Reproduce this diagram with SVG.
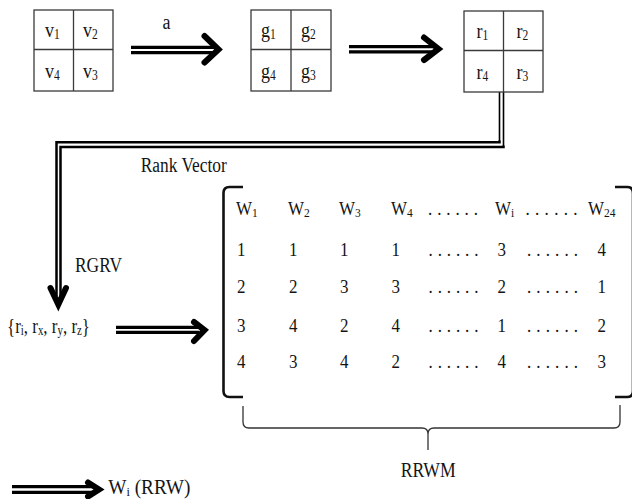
<svg xmlns="http://www.w3.org/2000/svg" width="632" height="499" viewBox="0 0 632 499">
<style>
text{font-family:"Liberation Serif","Times New Roman",serif;fill:#141414}
.bx{font-size:18px}
.lb{font-size:18px}
.mx{font-size:17px}
.sub{font-size:11.5px}
.cell{fill:#fff;stroke:#3a3a3a;stroke-width:1.3}
.grid{stroke:#3a3a3a;stroke-width:1.3}
.dl{fill:none;stroke:#000;stroke-width:3.2}
.dt{fill:none;stroke:#000;stroke-width:2.5}
.dthin{fill:none;stroke:#000;stroke-width:1.6}
.hd{fill:none;stroke:#000;stroke-width:6;stroke-linecap:round;stroke-linejoin:miter}
.br{fill:none;stroke:#111;stroke-width:2.6}
.brace{fill:none;stroke:#333;stroke-width:1.3}
</style>

<g id="connectors">
  <path class="dl" d="M131,47.3 H214 M131,52.7 H214"/>
  <polyline class="hd" points="204.5,36 218.5,49.5 204.5,62.5"/>
  <path class="dl" d="M349,46.7 H434 M349,51.9 H434"/>
  <polyline class="hd" points="424,37.5 438.5,49 424,60"/>
  <path class="dthin" d="M499.5,92 V141 M503.5,92 V146"/>
  <path class="dt" d="M499.5,140.5 V142.2 H56.5 V296 M503.5,145.5 V147 H60.5 V296"/>
  <polyline class="hd" points="50.5,288 58.3,304.5 66,288"/>
  <path class="dl" d="M116,327.3 H199 M116,332.4 H199"/>
  <polyline class="hd" points="194,322 204.5,330 194,341"/>
  <path class="dl" d="M12,486.7 H94 M12,492.3 H94"/>
  <polyline class="hd" points="88,482.5 99,489.5 88,496.5"/>
</g>

<g id="label-a"><text class="lb" transform="translate(162.5,29) scale(1,1.2)">a</text></g>
<g id="label-rank-vector"><text class="lb" transform="translate(140.7,171.7) scale(1,1.2)" textLength="86" lengthAdjust="spacingAndGlyphs">Rank Vector</text></g>
<g id="label-rgrv"><text class="lb" transform="translate(75,271.7) scale(1,1.2)" textLength="47" lengthAdjust="spacingAndGlyphs">RGRV</text></g>

<g id="box-v">
  <rect class="cell" x="34" y="10" width="79" height="81"/>
  <path class="grid" d="M73.5,10 V91 M34,49.5 H113"/>
  <text class="bx" transform="translate(45,37) scale(1,1.2)">v<tspan class="sub" dy="2">1</tspan></text>
  <text class="bx" transform="translate(83,37) scale(1,1.2)">v<tspan class="sub" dy="2">2</tspan></text>
  <text class="bx" transform="translate(45,77.7) scale(1,1.2)">v<tspan class="sub" dy="2">4</tspan></text>
  <text class="bx" transform="translate(83,77.7) scale(1,1.2)">v<tspan class="sub" dy="2">3</tspan></text>
</g>

<g id="box-g">
  <rect class="cell" x="251" y="10" width="80" height="81"/>
  <path class="grid" d="M291,10 V91 M251,49.5 H331"/>
  <text class="bx" transform="translate(261,37) scale(1,1.2)">g<tspan class="sub" dy="2">1</tspan></text>
  <text class="bx" transform="translate(301,37) scale(1,1.2)">g<tspan class="sub" dy="2">2</tspan></text>
  <text class="bx" transform="translate(261,77.7) scale(1,1.2)">g<tspan class="sub" dy="2">4</tspan></text>
  <text class="bx" transform="translate(301,77.7) scale(1,1.2)">g<tspan class="sub" dy="2">3</tspan></text>
</g>

<g id="box-r">
  <rect class="cell" x="464" y="11" width="79" height="81"/>
  <path class="grid" d="M503.5,11 V92 M464,50.5 H543"/>
  <text class="bx" transform="translate(476.5,37.5) scale(1,1.2)">r<tspan class="sub" dy="2">1</tspan></text>
  <text class="bx" transform="translate(516.5,37.5) scale(1,1.2)">r<tspan class="sub" dy="2">2</tspan></text>
  <text class="bx" transform="translate(476.5,79) scale(1,1.2)">r<tspan class="sub" dy="2">4</tspan></text>
  <text class="bx" transform="translate(516.5,79) scale(1,1.2)">r<tspan class="sub" dy="2">3</tspan></text>
</g>

<g id="rank-set">
  <text class="lb" transform="translate(7,333) scale(1,1.2)" textLength="83" lengthAdjust="spacingAndGlyphs">{r<tspan class="sub" dy="2">i</tspan><tspan dy="-2">, r</tspan><tspan class="sub" dy="2">x</tspan><tspan dy="-2">, r</tspan><tspan class="sub" dy="2">y</tspan><tspan dy="-2">, r</tspan><tspan class="sub" dy="2">z</tspan><tspan dy="-2">}</tspan></text>
</g>

<g id="matrix">
  <path class="br" d="M243,187 H229.5 Q223.5,187 223.5,193 V391 Q223.5,397 229.5,397 H243"/>
  <path class="br" d="M615,187 H627 Q633,187 633,193 V391 Q633,397 627,397 H615"/>
  <text class="mx" transform="translate(236,215) scale(1,1.12)">W<tspan class="sub" dy="2">1</tspan></text>
  <text class="mx" transform="translate(288,215) scale(1,1.12)">W<tspan class="sub" dy="2">2</tspan></text>
  <text class="mx" transform="translate(339,215) scale(1,1.12)">W<tspan class="sub" dy="2">3</tspan></text>
  <text class="mx" transform="translate(391,215) scale(1,1.12)">W<tspan class="sub" dy="2">4</tspan></text>
  <text class="mx" transform="translate(428,215) scale(1,1.12)" textLength="50" lengthAdjust="spacing">......</text>
  <text class="mx" transform="translate(495,215) scale(1,1.12)">W<tspan class="sub" dy="2">i</tspan></text>
  <text class="mx" transform="translate(525.5,215) scale(1,1.12)" textLength="52" lengthAdjust="spacing">......</text>
  <text class="mx" transform="translate(588,215) scale(1,1.12)">W<tspan class="sub" dy="2">24</tspan></text>

  <text class="mx" transform="translate(237,256) scale(1,1.12)">1</text>
  <text class="mx" transform="translate(289,256) scale(1,1.12)">1</text>
  <text class="mx" transform="translate(340,256) scale(1,1.12)">1</text>
  <text class="mx" transform="translate(391.5,256) scale(1,1.12)">1</text>
  <text class="mx" transform="translate(428.5,256) scale(1,1.12)" textLength="50" lengthAdjust="spacing">......</text>
  <text class="mx" transform="translate(497.5,256) scale(1,1.12)">3</text>
  <text class="mx" transform="translate(527,256) scale(1,1.12)" textLength="51" lengthAdjust="spacing">......</text>
  <text class="mx" transform="translate(597.5,256) scale(1,1.12)">4</text>

  <text class="mx" transform="translate(237,293.3) scale(1,1.12)">2</text>
  <text class="mx" transform="translate(289,293.3) scale(1,1.12)">2</text>
  <text class="mx" transform="translate(340,293.3) scale(1,1.12)">3</text>
  <text class="mx" transform="translate(391.5,293.3) scale(1,1.12)">3</text>
  <text class="mx" transform="translate(428.5,293.3) scale(1,1.12)" textLength="50" lengthAdjust="spacing">......</text>
  <text class="mx" transform="translate(497.5,293.3) scale(1,1.12)">2</text>
  <text class="mx" transform="translate(527,293.3) scale(1,1.12)" textLength="51" lengthAdjust="spacing">......</text>
  <text class="mx" transform="translate(597.5,293.3) scale(1,1.12)">1</text>

  <text class="mx" transform="translate(237,331.7) scale(1,1.12)">3</text>
  <text class="mx" transform="translate(289,331.7) scale(1,1.12)">4</text>
  <text class="mx" transform="translate(340,331.7) scale(1,1.12)">2</text>
  <text class="mx" transform="translate(391.5,331.7) scale(1,1.12)">4</text>
  <text class="mx" transform="translate(428.5,331.7) scale(1,1.12)" textLength="50" lengthAdjust="spacing">......</text>
  <text class="mx" transform="translate(497.5,331.7) scale(1,1.12)">1</text>
  <text class="mx" transform="translate(527,331.7) scale(1,1.12)" textLength="51" lengthAdjust="spacing">......</text>
  <text class="mx" transform="translate(597.5,331.7) scale(1,1.12)">2</text>

  <text class="mx" transform="translate(237,368.3) scale(1,1.12)">4</text>
  <text class="mx" transform="translate(289,368.3) scale(1,1.12)">3</text>
  <text class="mx" transform="translate(340,368.3) scale(1,1.12)">4</text>
  <text class="mx" transform="translate(391.5,368.3) scale(1,1.12)">2</text>
  <text class="mx" transform="translate(428.5,368.3) scale(1,1.12)" textLength="50" lengthAdjust="spacing">......</text>
  <text class="mx" transform="translate(497.5,368.3) scale(1,1.12)">4</text>
  <text class="mx" transform="translate(527,368.3) scale(1,1.12)" textLength="51" lengthAdjust="spacing">......</text>
  <text class="mx" transform="translate(597.5,368.3) scale(1,1.12)">3</text>
</g>

<g id="rrwm">
  <path class="brace" d="M243,406 V422 Q243,428 249,428 H422 Q428,428 428,434 V450 M428,434 Q428,428 434,428 H614 Q620,428 620,422 V405"/>
  <text class="lb" transform="translate(400.7,476.7) scale(1,1.2)" textLength="55" lengthAdjust="spacingAndGlyphs">RRWM</text>
</g>

<g id="legend">
  <text class="lb" transform="translate(108.3,493.5) scale(1,1.15)" textLength="82" lengthAdjust="spacingAndGlyphs">W<tspan class="sub" dy="2">i</tspan><tspan dy="-2"> (RRW)</tspan></text>
</g>
</svg>
